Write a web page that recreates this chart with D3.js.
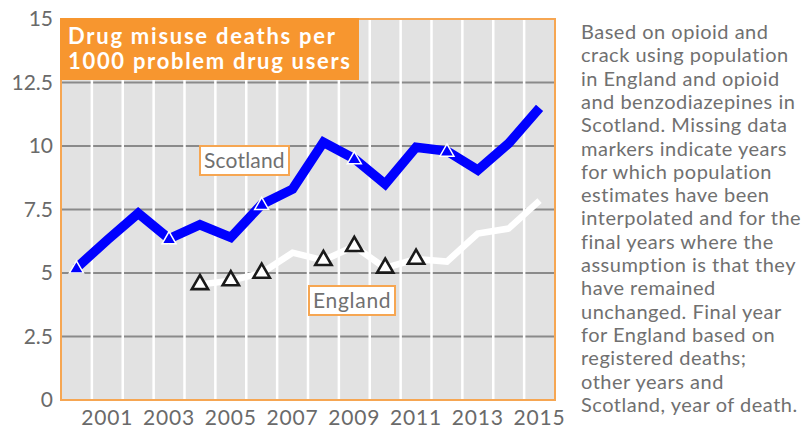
<!DOCTYPE html>
<html>
<head>
<meta charset="utf-8">
<script src="https://cdn.jsdelivr.net/npm/d3@7"></script>
<style>
  html, body { margin: 0; padding: 0; background: #fff; }
  svg { display: block; font-family: Lato, "Open Sans", sans-serif; }
</style>
</head>
<body>
<svg id="chart" width="807" height="430"></svg>
<script>
// Drug misuse deaths per 1000 problem drug users, Scotland vs England
const years = d3.range(2000, 2016);
const scotlandValues = [5.2, 6.3, 7.35, 6.35, 6.9, 6.4, 7.7, 8.3, 10.15, 9.5, 8.5, 9.95, 9.8, 9.05, 10.1, 11.5];
const scotlandMarkerYears = [2000, 2003, 2006, 2009, 2012];

const englandYears = d3.range(2004, 2016);
const englandValues = [4.55, 4.7, 5.0, 5.8, 5.5, 6.05, 5.2, 5.55, 5.45, 6.55, 6.75, 7.85];
const englandMarkerYears = [2004, 2005, 2006, 2008, 2009, 2010, 2011];

const yTicks = [0, 2.5, 5, 7.5, 10, 12.5, 15];
const xTickYears = [2001, 2003, 2005, 2007, 2009, 2011, 2013, 2015];

const titleLines = ["Drug misuse deaths per", "1000 problem drug users"];
const noteLines = [
  "Based on opioid and",
  "crack using population",
  "in England and opioid",
  "and benzodiazepines in",
  "Scotland. Missing data",
  "markers indicate years",
  "for which population",
  "estimates have been",
  "interpolated and for the",
  "final years where the",
  "assumption is that they",
  "have remained",
  "unchanged. Final year",
  "for England based on",
  "registered deaths;",
  "other years and",
  "Scotland, year of death."
];

const orange = "#f7962f";
const orangeLine = "#f6a652";
const textGrey = "#6a6a6a";

const svg = d3.select("#chart");
const plot = { left: 61, right: 555, top: 19, bottom: 400 };

const x = d3.scaleBand().domain(years).range([plot.left, plot.right]).paddingInner(0).paddingOuter(0);
const y = d3.scaleLinear().domain([0, 15]).range([plot.bottom, plot.top]);
const cx = d => x(d) + x.bandwidth() / 2;

// plot background
svg.append("rect")
  .attr("x", plot.left).attr("y", plot.top)
  .attr("width", plot.right - plot.left).attr("height", plot.bottom - plot.top)
  .attr("fill", "#e2e2e2");

// horizontal grid
svg.append("g").selectAll("line").data(yTicks.filter(v => v > 0 && v < 15)).join("line")
  .attr("x1", plot.left).attr("x2", plot.right)
  .attr("y1", d => y(d)).attr("y2", d => y(d))
  .attr("stroke", "#8a8a8a").attr("stroke-width", 2);

// vertical white separators between years
svg.append("g").selectAll("line").data(years.slice(1)).join("line")
  .attr("x1", d => x(d)).attr("x2", d => x(d))
  .attr("y1", plot.top).attr("y2", plot.bottom)
  .attr("stroke", "#ffffff").attr("stroke-width", 2.5);

// frame
svg.append("rect")
  .attr("x", plot.left).attr("y", plot.top)
  .attr("width", plot.right - plot.left).attr("height", plot.bottom - plot.top)
  .attr("fill", "none").attr("stroke", orangeLine).attr("stroke-width", 2);

// axes
const yAxis = svg.append("g")
  .attr("transform", `translate(${plot.left},0)`)
  .call(d3.axisLeft(y).tickValues(yTicks).tickFormat(d => String(d)).tickSize(0).tickPadding(8));
yAxis.select(".domain").remove();
yAxis.selectAll("text").attr("fill", textGrey).attr("font-size", 21).attr("font-family", "Lato, sans-serif");

const xAxis = svg.append("g")
  .attr("transform", `translate(0,${plot.bottom})`)
  .call(d3.axisBottom(x).tickValues(xTickYears).tickFormat(d => String(d)).tickSize(0).tickPadding(10));
xAxis.select(".domain").remove();
xAxis.selectAll("text").attr("fill", textGrey).attr("font-size", 21).attr("font-family", "Lato, sans-serif")
  .attr("letter-spacing", 0.8);

// England line (white)
const englandData = englandYears.map((yr, i) => ({ year: yr, value: englandValues[i] }));
const scotlandData = years.map((yr, i) => ({ year: yr, value: scotlandValues[i] }));

const line = d3.line().x(d => cx(d.year)).y(d => y(d.value));

svg.append("path").datum(englandData)
  .attr("d", line)
  .attr("fill", "none").attr("stroke", "#ffffff").attr("stroke-width", 6.5)
  .attr("stroke-linejoin", "miter");

// Scotland line (blue)
svg.append("path").datum(scotlandData)
  .attr("d", line)
  .attr("fill", "none").attr("stroke", "#0000ff").attr("stroke-width", 9.5)
  .attr("stroke-linejoin", "miter");

// Scotland markers
svg.append("g").selectAll("path").data(scotlandData.filter(d => scotlandMarkerYears.includes(d.year))).join("path")
  .attr("d", d3.symbol(d3.symbolTriangle, 85))
  .attr("transform", d => `translate(${cx(d.year)},${y(d.value) + 1})`)
  .attr("fill", "#0000ff").attr("stroke", "#ffffff").attr("stroke-width", 1.5);

// England markers
svg.append("g").selectAll("path").data(englandData.filter(d => englandMarkerYears.includes(d.year))).join("path")
  .attr("d", d3.symbol(d3.symbolTriangle, 115))
  .attr("transform", d => `translate(${cx(d.year)},${y(d.value)})`)
  .attr("fill", "#ffffff").attr("stroke", "#1a1a1a").attr("stroke-width", 2.6)
  .attr("stroke-linejoin", "miter");

// series labels
function boxLabel(text, bx, by, bw, bh) {
  const g = svg.append("g");
  g.append("rect").attr("x", bx).attr("y", by).attr("width", bw).attr("height", bh)
    .attr("fill", "#ffffff").attr("stroke", orangeLine).attr("stroke-width", 2);
  g.append("text").attr("x", bx + bw / 2).attr("y", by + bh / 2 + 7.5)
    .attr("text-anchor", "middle").attr("fill", "#707070")
    .attr("font-size", 21).attr("letter-spacing", 0.4)
    .attr("textLength", bw - 8).attr("lengthAdjust", "spacing")
    .text(text);
}
boxLabel("Scotland", 200, 146, 89, 29);
boxLabel("England", 309, 286, 86, 29);

// title block
svg.append("rect").attr("x", plot.left - 1).attr("y", plot.top - 1)
  .attr("width", 299).attr("height", 62).attr("fill", orange);
const titleWidths = [267, 282];
svg.append("g").selectAll("text").data(titleLines).join("text")
  .attr("x", 68).attr("y", (d, i) => 44 + i * 25)
  .attr("fill", "#ffffff").attr("font-weight", "bold").attr("font-size", 22)
  .attr("textLength", (d, i) => titleWidths[i]).attr("lengthAdjust", "spacing")
  .text(d => d);

// note text
svg.append("g").selectAll("text").data(noteLines).join("text")
  .attr("x", 581).attr("y", (d, i) => 39 + i * 23.3)
  .attr("fill", "#707070").attr("font-size", 20).attr("letter-spacing", 0.5)
  .text(d => d);
</script>
</body>
</html>
